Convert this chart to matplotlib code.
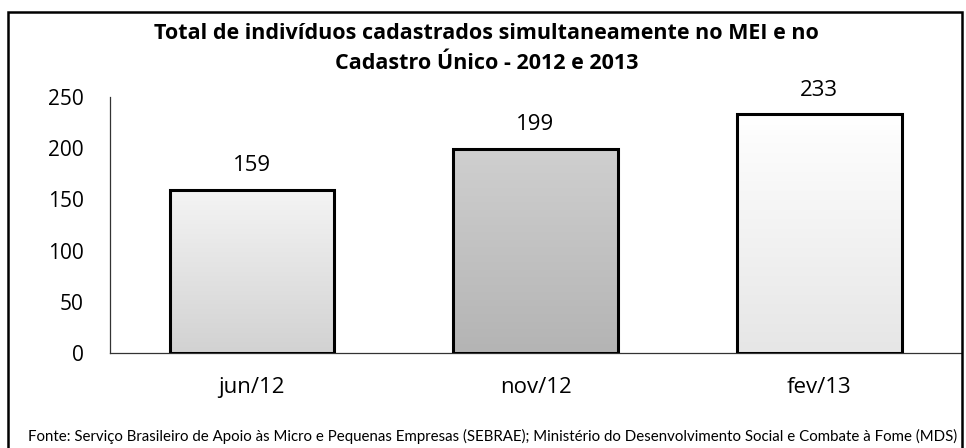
#!/usr/bin/env python3
# coding=utf-8

import matplotlib
matplotlib.use('Agg')
import matplotlib.pyplot as plt
from matplotlib.patches import Rectangle
import numpy as np

plt.rcParams['font.family'] = ['Open Sans', 'DejaVu Sans']

periodos = ['jun/12', 'nov/12', 'fev/13']
individuos = [159, 199, 233]
cores_topo = ['#f4f4f4', '#cfcfcf', '#ffffff']
cores_base = ['#d2d2d2', '#b4b4b4', '#e6e6e6']

titulo_1 = 'Total de indivíduos cadastrados simultaneamente no MEI e no'
titulo_2 = 'Cadastro Único - 2012 e 2013'
fonte = ('Fonte: Serviço Brasileiro de Apoio às Micro e Pequenas Empresas (SEBRAE); '
         'Ministério do Desenvolvimento Social e Combate à Fome (MDS)')

fig = plt.figure(figsize=(9.66, 4.48), dpi=100)
ax = fig.add_axes([0.1139, 0.212, 0.881, 0.5714])

x = np.arange(len(periodos))
barras = ax.bar(x, individuos, width=0.58, color='none', edgecolor='black', linewidth=2.2, zorder=3)

# preenchimento em degradê dentro de cada barra
for b, c1, c2 in zip(barras, cores_topo, cores_base):
    cmap = matplotlib.colors.LinearSegmentedColormap.from_list('g', [c2, c1])
    grad = np.linspace(0, 1, 100).reshape(-1, 1)
    im = ax.imshow(grad, cmap=cmap, aspect='auto', origin='lower',
                   extent=[b.get_x(), b.get_x() + b.get_width(), 0, b.get_height()], zorder=2)
    im.set_clip_path(b)

ax.bar_label(barras, labels=[str(v) for v in individuos], padding=10, fontsize=16)

ax.set_xlim(-0.5, 2.5)
ax.set_ylim(0, 250)
ax.set_yticks([0, 50, 100, 150, 200, 250])
ax.set_xticks(x)
ax.set_xticklabels(periodos)
ax.tick_params(axis='y', length=0, pad=19, labelsize=15)
ax.tick_params(axis='x', length=0, pad=17, labelsize=16)

for s in ['top', 'right']:
    ax.spines[s].set_visible(False)
ax.spines['left'].set_color('#333333')
ax.spines['bottom'].set_color('#333333')
ax.spines['left'].set_linewidth(0.9)
ax.spines['bottom'].set_linewidth(0.9)

fig.text(0.504, 0.926, titulo_1, ha='center', va='center', fontsize=15.5, fontweight='bold')
fig.text(0.504, 0.859, titulo_2, ha='center', va='center', fontsize=15.5, fontweight='bold')
fig.text(0.029, 0.025, fonte, ha='left', va='center', fontsize=10.8, family=['Lato', 'DejaVu Sans'])

# moldura do gráfico
fig.patches.append(Rectangle((0.008, -0.05), 0.988, 1.023, transform=fig.transFigure,
                             fill=False, edgecolor='black', linewidth=1.8))

plt.savefig('out.png', dpi=100)
